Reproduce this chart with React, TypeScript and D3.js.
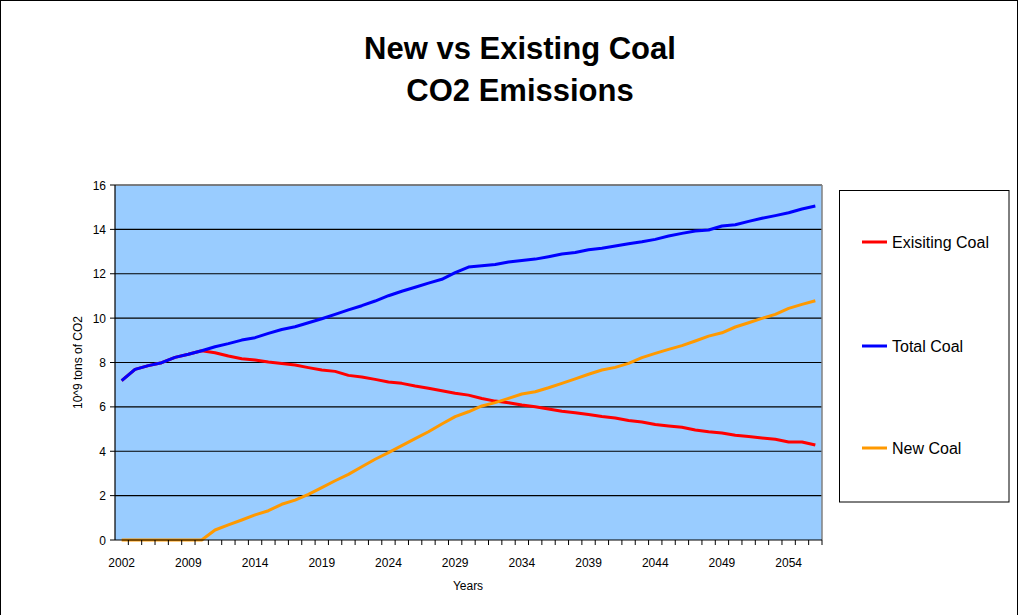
import React from "react";
import * as d3 from "d3";

const categories = [
  "2002", "2005", "2006", "2007", "2008", "2009", "2010", "2011", "2012", "2013",
  "2014", "2015", "2016", "2017", "2018", "2019", "2020", "2021", "2022", "2023",
  "2024", "2025", "2026", "2027", "2028", "2029", "2030", "2031", "2032", "2033",
  "2034", "2035", "2036", "2037", "2038", "2039", "2040", "2041", "2042", "2043",
  "2044", "2045", "2046", "2047", "2048", "2049", "2050", "2051", "2052", "2053",
  "2054", "2055", "2056",
];

const totalCoal = [
  7.18, 7.69, 7.86, 7.99, 8.23, 8.37, 8.53, 8.71, 8.85, 9.01,
  9.12, 9.31, 9.49, 9.61, 9.79, 9.97, 10.17, 10.37, 10.56, 10.77,
  11.01, 11.21, 11.39, 11.58, 11.75, 12.05, 12.3, 12.36, 12.42, 12.53,
  12.6, 12.66, 12.77, 12.89, 12.96, 13.08, 13.15, 13.25, 13.35, 13.44,
  13.55, 13.7, 13.82, 13.93, 13.97, 14.15, 14.21, 14.36, 14.5, 14.62,
  14.75, 14.92, 15.05,
];

const existingCoal = [
  7.18, 7.69, 7.86, 7.99, 8.23, 8.37, 8.53, 8.44, 8.29, 8.17,
  8.11, 8.02, 7.96, 7.89, 7.77, 7.66, 7.6, 7.42, 7.35, 7.24,
  7.12, 7.06, 6.94, 6.84, 6.73, 6.61, 6.53, 6.38, 6.26, 6.19,
  6.08, 6.01, 5.9, 5.8, 5.74, 5.66, 5.57, 5.5, 5.39, 5.32,
  5.21, 5.14, 5.08, 4.96, 4.88, 4.82, 4.72, 4.66, 4.6, 4.54,
  4.42, 4.42, 4.28,
];

const newCoal = [
  0, 0, 0, 0, 0, 0, 0, 0.45, 0.68, 0.9,
  1.13, 1.32, 1.61, 1.8, 2.06, 2.36, 2.67, 2.96, 3.3, 3.64,
  3.94, 4.25, 4.57, 4.88, 5.23, 5.56, 5.78, 6.04, 6.19, 6.38,
  6.58, 6.68, 6.86, 7.06, 7.26, 7.47, 7.66, 7.78, 7.96, 8.22,
  8.41, 8.59, 8.76, 8.97, 9.19, 9.34, 9.6, 9.79, 9.99, 10.17,
  10.44, 10.62, 10.78,
];

const yTicks = [0, 2, 4, 6, 8, 10, 12, 14, 16];
const xLabelEvery = 5;

const seriesNames = ["Exisiting Coal", "Total Coal", "New Coal"];
const seriesColors = ["#FF0000", "#0000FF", "#FF9900"];

export default function App() {
  const W = 1019;
  const H = 615;
  const left = 115;
  const right = 822;
  const top = 185;
  const bottom = 540;
  const font = "Arial, 'Liberation Sans', sans-serif";

  const x = d3.scaleBand<string>().domain(categories).range([left, right]).padding(0);
  const y = d3.scaleLinear().domain([0, 16]).range([bottom, top]);
  const cx = (i: number) => (x(categories[i]) as number) + x.bandwidth() / 2;

  const line = d3
    .line<number>()
    .x((_, i) => cx(i))
    .y((d) => y(d));

  const series = [existingCoal, totalCoal, newCoal];

  const legendX = 839.5;
  const legendY = 190.5;
  const legendW = 169.5;
  const legendH = 311.5;
  const legendItemsY = [242, 346, 448];

  return (
    <svg
      width={W}
      height={H}
      style={{ position: "absolute", left: 0, top: 0, background: "#fff" }}
      fontFamily={font}
    >
      <rect x={0.5} y={0.5} width={W - 2} height={H + 10} fill="#fff" stroke="#000" strokeWidth={1} />
      <text x={520} y={59} textAnchor="middle" fontSize={31} fontWeight="bold" fill="#000">
        New vs Existing Coal
      </text>
      <text x={520} y={101} textAnchor="middle" fontSize={31} fontWeight="bold" fill="#000">
        CO2 Emissions
      </text>

      {/* plot area */}
      <rect x={left} y={top} width={right - left} height={bottom - top} fill="#99CCFF" />
      {yTicks.slice(1).map((t) => (
        <line key={t} x1={left} x2={right} y1={y(t)} y2={y(t)} stroke="#000" strokeWidth={1.2} />
      ))}
      <line x1={left} x2={right} y1={top} y2={top} stroke="#808080" strokeWidth={1.5} />
      <line x1={right} x2={right} y1={top} y2={bottom} stroke="#808080" strokeWidth={1.5} />

      {series.map((s, k) => (
        <path
          key={k}
          d={line(s) || ""}
          fill="none"
          stroke={seriesColors[k]}
          strokeWidth={3}
          strokeLinejoin="round"
        />
      ))}

      {/* axes */}
      <line x1={left} x2={left} y1={top} y2={bottom} stroke="#000" strokeWidth={1.2} />
      <line x1={left} x2={right} y1={bottom} y2={bottom} stroke="#000" strokeWidth={1.2} />
      {yTicks.map((t) => (
        <g key={t}>
          <line x1={left - 5} x2={left} y1={y(t)} y2={y(t)} stroke="#000" strokeWidth={1} />
          <text x={left - 9} y={y(t) + 4.5} textAnchor="end" fontSize={12} fill="#000">
            {t}
          </text>
        </g>
      ))}
      {categories.map((c) => (
        <line
          key={c + "t"}
          x1={(x(c) as number) + x.bandwidth()}
          x2={(x(c) as number) + x.bandwidth()}
          y1={bottom}
          y2={bottom + 5}
          stroke="#000"
          strokeWidth={1}
        />
      ))}
      {categories.map((c, i) =>
        i % xLabelEvery === 0 ? (
          <text key={c} x={cx(i)} y={567} textAnchor="middle" fontSize={12} fill="#000">
            {c}
          </text>
        ) : null
      )}
      <text x={468} y={590} textAnchor="middle" fontSize={12} fill="#000">
        Years
      </text>
      <text
        transform={`translate(82, ${(top + bottom) / 2}) rotate(-90)`}
        textAnchor="middle"
        fontSize={12}
        fill="#000"
      >
        10^9 tons of CO2
      </text>

      {/* legend */}
      <rect x={legendX} y={legendY} width={legendW} height={legendH} fill="#fff" stroke="#000" strokeWidth={1} />
      {seriesNames.map((n, k) => (
        <g key={n}>
          <line
            x1={862}
            x2={887}
            y1={legendItemsY[k]}
            y2={legendItemsY[k]}
            stroke={seriesColors[k]}
            strokeWidth={3}
          />
          <text x={892} y={legendItemsY[k] + 6} fontSize={16} fill="#000">
            {n}
          </text>
        </g>
      ))}
    </svg>
  );
}
